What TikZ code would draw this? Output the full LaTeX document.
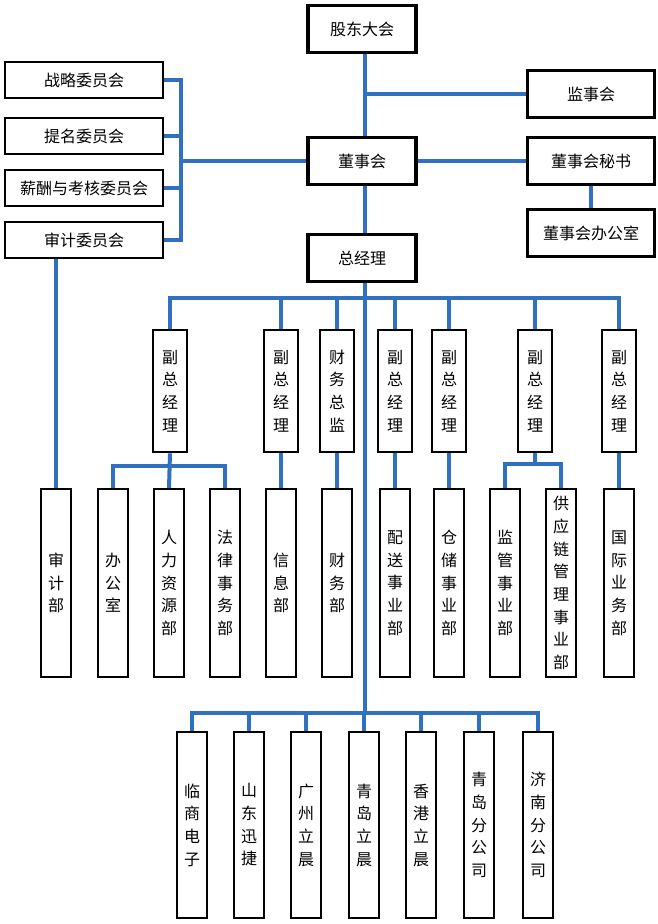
\documentclass[tikz,border=0pt]{standalone}
\usepackage{fontspec}
\setmainfont{Noto Sans CJK SC}
\usetikzlibrary{positioning}
\usetikzlibrary{calc}
\definecolor{linkblue}{RGB}{48,112,192}
\tikzset{
  topbox/.style={draw, line width=2.4pt, fill=white, minimum width=81pt, minimum height=35pt, inner sep=0pt},
  sidebox/.style={draw, line width=1.5pt, fill=white, minimum width=118pt, minimum height=27pt, inner sep=0pt},
  vbox/.style={draw, line width=1.5pt, fill=white, minimum width=26pt, minimum height=92pt, inner sep=0pt, align=center},
  dbox/.style={draw, line width=1.5pt, fill=white, minimum width=23pt, minimum height=141pt, inner sep=0pt, align=center},
  sbox/.style={draw, line width=1.5pt, fill=white, minimum width=23pt, minimum height=139pt, inner sep=0pt, align=center},
  link/.style={linkblue, line width=3pt}
}
\begin{document}
\begin{tikzpicture}[x=0.75pt, y=-0.75pt, font=\fontsize{12}{17}\selectfont]
  \useasboundingbox (0,0) rectangle (657,924);

  % top of the chart
  \node[topbox] (gd)  at (362,29)  {股东大会};
  \node[topbox] (dsh) at (362,161) {董事会};
  \node[topbox] (zjl) at (362,258) {总经理};
  \node[topbox, minimum width=95pt] (jsh)  at (591,94)  {监事会};
  \node[topbox, minimum width=95pt] (ms)   at (591,161) {董事会秘书};
  \node[topbox, minimum width=95pt] (bgs0) at (591,233) {董事会办公室};

  % committees
  \node[sidebox] (c1) at (84,80)  {战略委员会};
  \node[sidebox] (c2) at (84,136) {提名委员会};
  \node[sidebox] (c3) at (84,188) {薪酬与考核委员会};
  \node[sidebox] (c4) at (84,240) {审计委员会};
  \coordinate (cb) at (181,161);

  % deputies
  \foreach \n/\x/\t in {vp1/170/副\\总\\经\\理, vp2/281/副\\总\\经\\理, vp3/337/财\\务\\总\\监,
                        vp4/395/副\\总\\经\\理, vp5/449/副\\总\\经\\理, vp6/535/副\\总\\经\\理,
                        vp7/619/副\\总\\经\\理}
    \node[vbox] (\n) at (\x,391) {\t};
  \coordinate (busA) at (365,298);

  % departments
  \foreach \n/\x/\t in {d1/56/审\\计\\部, d2/113/办\\公\\室, d3/169/人\\力\\资\\源\\部,
                        d4/225/法\\律\\事\\务\\部, d5/281/信\\息\\部, d6/337/财\\务\\部,
                        d7/395/配\\送\\事\\业\\部, d8/449/仓\\储\\事\\业\\部, d9/505/监\\管\\事\\业\\部,
                        d10/561/供\\应\\链\\管\\理\\事\\业\\部, d11/619/国\\际\\业\\务\\部}
    \node[dbox] (\n) at (\x,583) {\t};

  % subsidiaries
  \foreach \n/\x/\t in {s1/192/临\\商\\电\\子, s2/249/山\\东\\迅\\捷, s3/306/广\\州\\立\\晨,
                        s4/364/青\\岛\\立\\晨, s5/421/香\\港\\立\\晨, s6/479/青\\岛\\分\\公\\司,
                        s7/538/济\\南\\分\\公\\司}
    \node[sbox] (\n) at (\x,825) {\t};
  \coordinate (busB) at (365,713);

  % connectors
  \draw[link] (gd.south -| busA) -- (dsh.north -| busA);
  \draw[link] (jsh.west) -- (jsh.west -| busA);
  \draw[link] (dsh.east) -- (ms.west);
  \draw[link] (ms.south) -- (bgs0.north);
  \draw[link] (dsh.south -| busA) -- (zjl.north -| busA);
  \draw[link] (zjl.south -| busA) -- (busB);
  \draw[link] (c1.east) -- (c1.east -| cb) -- (c4.east -| cb) -- (c4.east);
  \draw[link] (c2.east) -- (c2.east -| cb);
  \draw[link] (c3.east) -- (c3.east -| cb);
  \draw[link] (cb) -- (dsh.west);
  \draw[link] (c4.south -| d1) -- (d1.north);
  \draw[link] (vp1.north) |- (busA) -| (vp7.north);
  \foreach \n in {vp2,vp3,vp4,vp5,vp6}
    \draw[link] (\n.north) -- (\n.north |- busA);
  \draw[link] (vp1.south) -- (d3.north);
  \draw[link] (d2.north) -- ++(0,-22) -| (d4.north);
  \draw[link] (vp2.south) -- (d5.north);
  \draw[link] (vp3.south) -- (d6.north);
  \draw[link] (vp4.south) -- (d7.north);
  \draw[link] (vp5.south) -- (d8.north);
  \draw[link] (vp6.south) -- ++(0,11) coordinate (j6);
  \draw[link] (d9.north) |- (j6) -| (d10.north);
  \draw[link] (vp7.south) -- (d11.north);
  \draw[link] (s1.north) |- (busB) -| (s7.north);
  \foreach \n in {s2,s3,s4,s5,s6}
    \draw[link] (\n.north) -- (\n.north |- busB);
\end{tikzpicture}
\end{document}
